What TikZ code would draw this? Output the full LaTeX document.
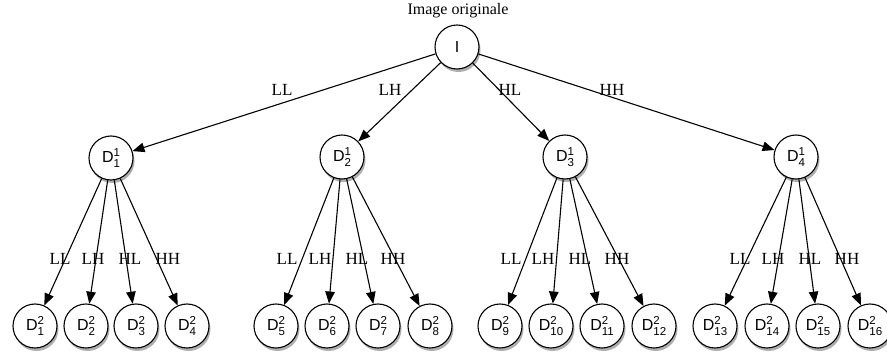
\documentclass[tikz,border=0pt]{standalone}
\usepackage{fontspec}
\setmainfont{Liberation Serif}
\newfontfamily\nodefont{Liberation Sans}
\usetikzlibrary{arrows.meta,shadows}
\newcommand\dlab[2]{D\rlap{\raisebox{6pt}{\fontsize{11.5}{11.5}\selectfont #1}}\raisebox{-5pt}{\fontsize{11.5}{11.5}\selectfont #2}}
\tikzset{
  dnode/.style={circle,draw,line width=1.1pt,fill=white,minimum size=44pt,inner sep=0pt,
    font=\nodefont\fontsize{16}{16}\selectfont,
    drop shadow={shadow xshift=1.5pt,shadow yshift=-3pt,opacity=0.45,fill=black!70}},
  elab/.style={font=\fontsize{17}{17}\selectfont,inner sep=1pt},
  conn/.style={line width=1.1pt,-{Triangle[length=12pt,width=9.5pt]}}
}
\begin{document}
\begin{tikzpicture}[x=1pt,y=-1pt]
\useasboundingbox (0,0) rectangle (887,358);
\node[font=\fontsize{16}{16}\selectfont] (title) at (458,11) {Image originale};
\node[dnode] (I) at (457,47) {I};
\node[dnode] (a1) at (111,158) {\dlab{1}{1}};
\node[dnode] (a2) at (342,157) {\dlab{1}{2}};
\node[dnode] (a3) at (565,157) {\dlab{1}{3}};
\node[dnode] (a4) at (796,157) {\dlab{1}{4}};
\foreach \n/\x in {1/35,2/86,3/136,4/187,5/276,6/327,7/378,8/430,9/500,10/551,11/602,12/654,13/715,14/767,15/818,16/870}{
  \node[dnode] (b\n) at (\x,326) {\dlab{2}{\n}};
}
\foreach \i in {1,...,4}{ \draw[conn] (I) -- (a\i); }
\foreach \p/\a/\b/\c/\d in {1/1/2/3/4,2/5/6/7/8,3/9/10/11/12,4/13/14/15/16}{
  \draw[conn] (a\p) -- (b\a);
  \draw[conn] (a\p) -- (b\b);
  \draw[conn] (a\p) -- (b\c);
  \draw[conn] (a\p) -- (b\d);
}
\node[elab] (l1) at (282,90) {LL};
\node[elab] (l2) at (390,90) {LH};
\node[elab] (l3) at (510,90) {HL};
\node[elab] (l4) at (612,90) {HH};
\foreach \g/\xa/\xb/\xc/\xd in {1/60/93/130/168,2/287/320/357/393,3/511/543/580/617,4/740/773/810/847}{
  \node[elab] (m\g a) at (\xa,259) {LL};
  \node[elab] (m\g b) at (\xb,259) {LH};
  \node[elab] (m\g c) at (\xc,259) {HL};
  \node[elab] (m\g d) at (\xd,259) {HH};
}
\end{tikzpicture}
\end{document}
